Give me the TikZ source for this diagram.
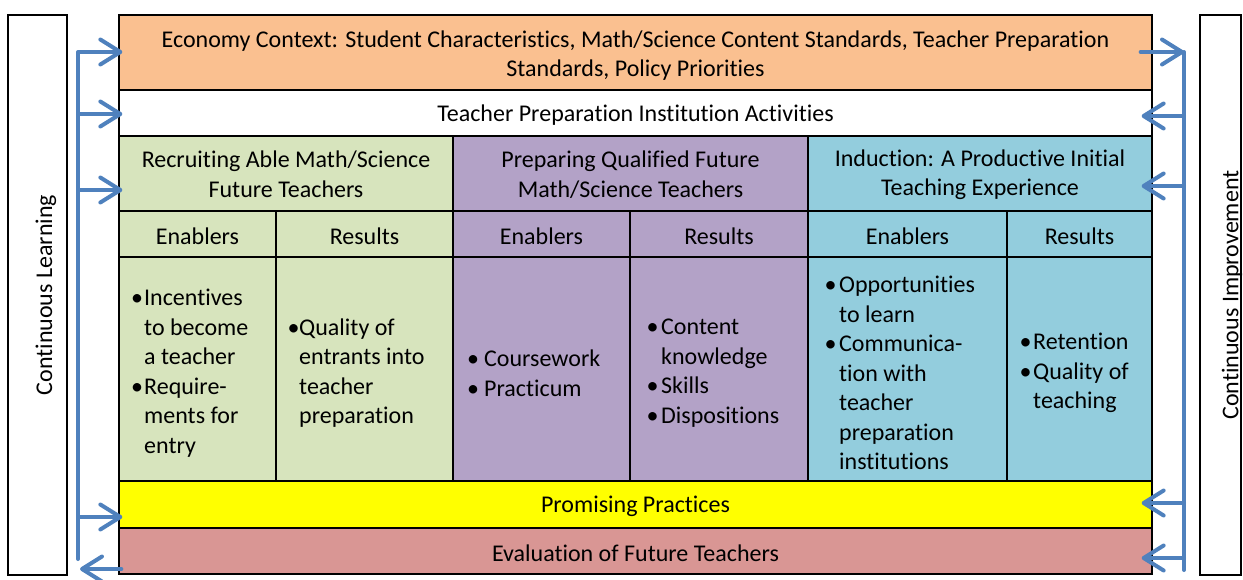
\documentclass[tikz,border=0pt]{standalone}
\usepackage{fontspec}
\setmainfont{Carlito}[Ligatures=NoCommon]
\usetikzlibrary{arrows.meta,fit}
\definecolor{econ}{HTML}{FAC090}
\definecolor{grn}{HTML}{D7E4BD}
\definecolor{pur}{HTML}{B3A2C7}
\definecolor{blu}{HTML}{93CDDD}
\definecolor{yel}{HTML}{FFFF00}
\definecolor{evl}{HTML}{D99694}
\definecolor{arr}{HTML}{4F81BD}
\newcommand\bul[1]{\makebox[#1pt][c]{•}}
\newcommand\ind[1]{\hspace*{#1pt}}
\begin{document}
\begin{tikzpicture}[x=1pt,y=-1pt,
  every node/.style={font=\fontsize{24}{29.5}\selectfont},
  cell/.style={draw=black, line width=1.3pt, inner sep=0pt},
  lab/.style={align=center, inner sep=0pt},
  outer/.style={draw=black, line width=1.6pt, inner sep=0pt},
  bl/.style={anchor=west, align=left, inner sep=0pt},
  flow/.style={draw=arr, line width=4pt, line cap=round, line join=round,
    -{Straight Barb[length=20pt,width=25pt,round]}},
  rail/.style={draw=arr, line width=4pt, line cap=round}]
\useasboundingbox (0,0) rectangle (1243,579);
% side boxes
\node[outer, fit={(8,15) (67,575)}] (lbox) {};
\node[outer, fit={(1200,15) (1241,575)}] (rbox) {};
\node[rotate=90, inner sep=0pt] (ltxt) at (46,295) {Continuous Learning};
\node[rotate=90, inner sep=0pt] (rtxt) at (1232,295) {Continuous Improvement};
% rows
\node[cell, fill=econ, fit={(119,15) (1152,90)}] (econ) {};
\node[cell, fill=white, fit={(119,90) (1152,136)}] (tpi) {};
\node[cell, fill=grn, fit={(119,136) (453,211)}] (rec) {};
\node[cell, fill=pur, fit={(453,136) (808,211)}] (prep) {};
\node[cell, fill=blu, fit={(808,136) (1152,211)}] (indu) {};
\node[cell, fill=grn, fit={(119,211) (276,257)}] (e1) {};
\node[cell, fill=grn, fit={(276,211) (453,257)}] (r1) {};
\node[cell, fill=pur, fit={(453,211) (630,257)}] (e2) {};
\node[cell, fill=pur, fit={(630,211) (808,257)}] (r2) {};
\node[cell, fill=blu, fit={(808,211) (1007,257)}] (e3) {};
\node[cell, fill=blu, fit={(1007,211) (1152,257)}] (r3) {};
\node[cell, fill=grn, fit={(119,257) (276,481)}] (c1) {};
\node[cell, fill=grn, fit={(276,257) (453,481)}] (c2) {};
\node[cell, fill=pur, fit={(453,257) (630,481)}] (c3) {};
\node[cell, fill=pur, fit={(630,257) (808,481)}] (c4) {};
\node[cell, fill=blu, fit={(808,257) (1007,481)}] (c5) {};
\node[cell, fill=blu, fit={(1007,257) (1152,481)}] (c6) {};
\node[cell, fill=yel, fit={(119,481) (1152,528)}] (prom) {};
\node[cell, fill=evl, fit={(119,528) (1152,574)}] (eval) {};
% labels
\node[lab] (econL) at ([yshift=-3pt]econ.center) {Economy Context: Student Characteristics, Math/Science Content Standards, Teacher Preparation\\Standards, Policy Priorities};
\node[lab] (tpiL) at ([yshift=-2pt]tpi.center) {Teacher Preparation Institution Activities};
\node[lab] (recL) at ([yshift=-1pt]rec.center) {Recruiting Able Math/Science\\Future Teachers};
\node[lab] (prepL) at ([yshift=-1pt]prep.center) {Preparing Qualified Future\\Math/Science Teachers};
\node[lab] (induL) at ([yshift=-1pt]indu.center) {Induction: A Productive Initial\\Teaching Experience};
\node[lab] (e1L) at ([yshift=-2pt]e1.center) {Enablers};
\node[lab] (r1L) at ([yshift=-2pt]r1.center) {Results};
\node[lab] (e2L) at ([yshift=-2pt]e2.center) {Enablers};
\node[lab] (r2L) at ([yshift=-2pt]r2.center) {Results};
\node[lab] (e3L) at ([yshift=-2pt]e3.center) {Enablers};
\node[lab] (r3L) at ([yshift=-2pt]r3.center) {Results};
\node[lab] (promL) at ([yshift=-2pt]prom.center) {Promising Practices};
\node[lab] (evalL) at ([yshift=-2pt]eval.center) {Evaluation of Future Teachers};
% bullet texts
\node[bl] (t1) at (130,373) {\bul{14}Incentives\\\ind{14}to become\\\ind{14}a teacher\\\bul{14}Require-\\\ind{14}ments for\\\ind{14}entry};
\node[bl] (t2) at (288,373) {\bul{11}Quality of\\\ind{11}entrants into\\\ind{11}teacher\\\ind{11}preparation};
\node[bl] (t3) at (462,373) {\bul{22}Coursework\\\bul{22}Practicum};
\node[bl] (t4) at (644,373) {\bul{17}Content\\\ind{17}knowledge\\\bul{17}Skills\\\bul{17}Dispositions};
\node[bl] (t5) at (822,373) {\bul{17}Opportunities\\\ind{17}to learn\\\bul{17}Communica-\\\ind{17}tion with\\\ind{17}teacher\\\ind{17}preparation\\\ind{17}institutions};
\node[bl] (t6) at (1018,373) {\bul{15}Retention\\\bul{15}Quality of\\\ind{15}teaching};
% left rail
\coordinate (lt) at (78,52);
\coordinate (lb) at (78,559);
\coordinate (l1) at (78,114);
\coordinate (l2) at (78,190);
\coordinate (l3) at (78,517);
\coordinate (lout) at (80,569);
\draw[flow] (lb) -- (lt) -- ([xshift=4pt]econ.west |- lt);
\draw[flow] (l1) -- ([xshift=4pt]tpi.west |- l1);
\draw[flow] (l2) -- ([xshift=4pt]rec.west |- l2);
\draw[flow] (l3) -- ([xshift=4pt]prom.west |- l3);
\draw[flow] ([xshift=3pt]eval.west |- lout) -- (lout);
% right rail
\coordinate (rt) at (1184,52);
\coordinate (rb) at (1184,570);
\coordinate (r1c) at (1184,116);
\coordinate (r2c) at (1184,186);
\coordinate (r3c) at (1184,503);
\coordinate (r4c) at (1184,558);
\draw[rail] (rt) -- (rb);
\draw[flow] ([xshift=-12pt]econ.east |- rt) -- (rt);
\draw[flow] (r1c) -- ([xshift=-11pt]tpi.east |- r1c);
\draw[flow] (r2c) -- ([xshift=-11pt]indu.east |- r2c);
\draw[flow] (r3c) -- ([xshift=-11pt]prom.east |- r3c);
\draw[flow] (r4c) -- ([xshift=-11pt]eval.east |- r4c);
\end{tikzpicture}
\end{document}
